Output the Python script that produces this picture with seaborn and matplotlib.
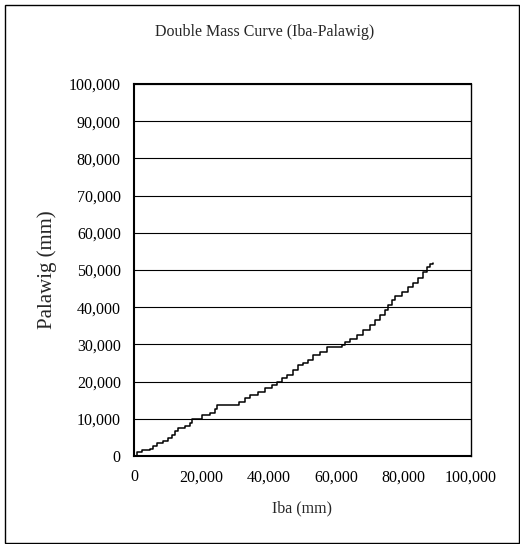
import pandas as pd
import matplotlib.pyplot as plt
import matplotlib.patches as patches
import seaborn as sns

# Cumulative rainfall (mm)
iba = [0, 800, 2300, 4700, 5700, 6700, 8700, 10200, 11200, 12200, 13100,
       15100, 16600, 17100, 19600, 20100, 22600, 24000, 24700, 30500, 31200,
       32900, 34400, 36900, 38900, 40900, 42300, 43800, 45300, 47300, 48800,
       50200, 51700, 53200, 55200, 57200, 61600, 62600, 64100, 66100, 68000,
       70000, 71500, 73000, 74500, 75500, 76500, 77400, 79400, 81400, 82900,
       84400, 85800, 86900, 87800, 88800]
palawig = [0, 1200, 1600, 1800, 2700, 3600, 4100, 4800, 5600, 6700, 7400,
           8100, 9000, 9900, 10000, 11000, 11600, 12600, 13700, 13700, 14600,
           15500, 16400, 17300, 18200, 19100, 20000, 20900, 21800, 23100, 24500,
           25100, 25800, 27200, 28000, 29400, 29800, 30700, 31400, 32500, 33800,
           35200, 36600, 37900, 39200, 40600, 41900, 43000, 44200, 45400, 46400,
           47800, 49500, 50700, 51600, 52000]

x_ticks = [0, 20000, 40000, 60000, 80000, 100000]
x_labels = ['0', '20,000', '40,000', '60,000', '80,000', '100,000']
y_ticks = [0, 10000, 20000, 30000, 40000, 50000, 60000, 70000, 80000, 90000, 100000]
y_labels = ['0', '10,000', '20,000', '30,000', '40,000', '50,000', '60,000',
            '70,000', '80,000', '90,000', '100,000']

df = pd.DataFrame({'Iba': iba, 'Palawig': palawig})

sns.set_theme(style="white")
plt.rcParams['font.family'] = ['Liberation Serif', 'DejaVu Serif']

fig = plt.figure(figsize=(5.2, 5.44), dpi=100)
ax = fig.add_axes([134 / 520, 1 - 456 / 544, 337 / 520, 372 / 544])

sns.lineplot(data=df, x='Iba', y='Palawig', ax=ax, color='black', linewidth=1.1,
             drawstyle='steps-post', sort=False, estimator=None)

ax.set_xlim(0, 100000)
ax.set_ylim(0, 100000)
ax.set_xticks(x_ticks)
ax.set_xticklabels(x_labels, fontsize=11.5)
ax.set_yticks(y_ticks)
ax.set_yticklabels(y_labels, fontsize=11.5)
ax.tick_params(axis='x', direction='inout', length=5, width=1, pad=7, colors='black')
ax.tick_params(axis='y', direction='out', length=4, width=1, pad=5.5, colors='black')

ax.yaxis.grid(True, color='black', linewidth=0.8)
ax.xaxis.grid(False)
ax.set_axisbelow(True)

for side in ['left', 'bottom', 'top']:
    ax.spines[side].set_linewidth(1.5)
    ax.spines[side].set_color('black')
ax.spines['right'].set_linewidth(1.0)
ax.spines['right'].set_color('black')

ax.set_xlabel('Iba (mm)', fontsize=11.5)
ax.set_ylabel('Palawig (mm)', fontsize=15)
ax.xaxis.set_label_coords(0.5, -0.12)
ax.yaxis.set_label_coords(-0.228, 0.5)

fig.text(0.5 + 4.3 / 520, 1 - 31.7 / 544, 'Double Mass Curve (Iba-Palawig)',
         ha='center', va='center', fontsize=11.5)

# Chart area border
fig.patches.append(patches.Rectangle((4.5 / 520, 1.5 / 544), 514 / 520, 537.5 / 544,
                                     transform=fig.transFigure, fill=False,
                                     edgecolor='black', linewidth=1.0))

fig.savefig('out.png', dpi=100)
plt.close(fig)
